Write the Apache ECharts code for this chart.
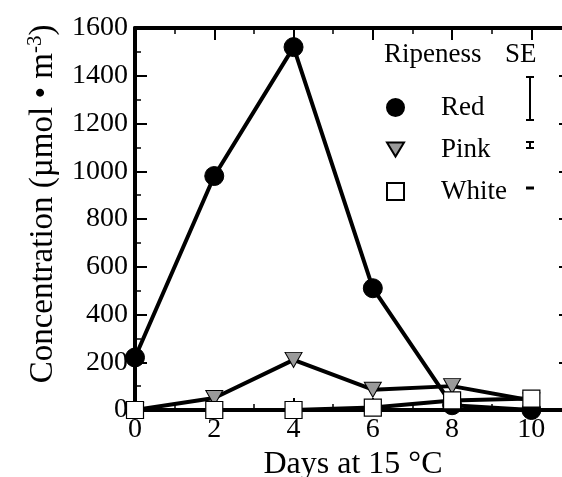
<!DOCTYPE html>
<html>
<head>
<meta charset="utf-8">
<script src="https://cdn.jsdelivr.net/npm/echarts@6/dist/echarts.min.js"></script>
<style>
html,body{margin:0;padding:0;background:#fff;}
#c{width:562px;height:477px;}
</style>
</head>
<body>
<div id="c"></div>
<script>
var days = [0, 2, 4, 6, 8, 10];
var redVals = [220, 980, 1520, 510, 20, 0];
var pinkVals = [0, 50, 210, 85, 100, 40];
var whiteVals = [0, 0, 0, 10, 40, 48];
var seriesNames = ['Red', 'Pink', 'White'];
var yTicks = [0, 200, 400, 600, 800, 1000, 1200, 1400, 1600];

var FONT = '"Liberation Serif", "DejaVu Serif", serif';
var triPath = 'path://M0,0 L12,0 L6,10 Z';

function pairs(vals){ return days.map(function(d,i){ return [d, vals[i]]; }); }

var chart = echarts.init(document.getElementById('c'), null, {renderer:'canvas'});

var axisCommon = {
  axisLine: {show:true, onZero:false, lineStyle:{color:'#000', width:4}},
  axisTick: {show:true, inside:true, length:12, lineStyle:{color:'#000', width:2}},
  minorTick: {show:true, splitNumber:2, length:6, lineStyle:{color:'#000', width:1.5}},
  splitLine: {show:false}
};

var option = {
  backgroundColor:'#fff',
  animation:false,
  grid: {left:135, top:28, width:436, height:382, outerBoundsMode:'none', containLabel:false},
  legend: {
    orient:'vertical', left:381, top:89, itemGap:15, itemWidth:17, itemHeight:17,
    data:[
      {name:'Red', icon:'circle'},
      {name:'Pink', icon:triPath},
      {name:'White', icon:'rect'}
    ],
    textStyle:{fontFamily:FONT, fontSize:27, color:'#000', padding:[0,0,0,32]},
    selectedMode:false
  },
  xAxis: [
    Object.assign({
      type:'value', min:0, max:11, interval:2, position:'bottom',
      name:'Days at 15 °C', nameLocation:'middle', nameGap:39,
      nameTextStyle:{fontFamily:FONT, fontSize:32, color:'#000', padding:[0,0,0,0]},
      axisLabel:{fontFamily:FONT, fontSize:28, color:'#000', margin:6, showMaxLabel:false,
        formatter:function(v){ return days.indexOf(v) >= 0 ? String(v) : ''; }}
    }, axisCommon),
    Object.assign({
      type:'value', min:0, max:11, interval:2, position:'top',
      axisLabel:{show:false}
    }, axisCommon)
  ],
  yAxis: [
    Object.assign({
      type:'value', min:0, max:1600, interval:200, position:'left',
      name:'Concentration (µmol • m{sup|-3})', nameLocation:'middle', nameGap:73, nameRotate:90,
      nameTextStyle:{fontFamily:FONT, fontSize:33, color:'#000', padding:[0,0,0,30],
        rich:{sup:{fontFamily:FONT, fontSize:21, color:'#000', verticalAlign:'top', padding:[0,0,16,0]}}},
      axisLabel:{fontFamily:FONT, fontSize:28, color:'#000', margin:7,
        formatter:function(v){ return yTicks.indexOf(v) >= 0 ? String(v) : ''; }}
    }, axisCommon),
    Object.assign({
      type:'value', min:0, max:1600, interval:200, position:'right',
      axisLabel:{show:false}
    }, axisCommon)
  ],
  series: [
    {
      name:'Red', type:'line', data:pairs(redVals), z:2,
      symbol:'circle', symbolSize:19,
      lineStyle:{color:'#000', width:4},
      itemStyle:{color:'#000', borderColor:'#000', borderWidth:1}
    },
    {
      name:'Pink', type:'line', data:pairs(pinkVals), z:3,
      symbol:triPath, symbolSize:[17,15],
      lineStyle:{color:'#000', width:4},
      itemStyle:{color:'#9a9a9a', borderColor:'#000', borderWidth:1}
    },
    {
      name:'White', type:'line', data:pairs(whiteVals), z:4,
      symbol:'rect', symbolSize:17,
      lineStyle:{color:'#000', width:4},
      itemStyle:{color:'#fff', borderColor:'#000', borderWidth:1.2}
    }
  ],
  graphic: [
    {type:'text', left:384, top:41, style:{text:'Ripeness', font:'27px ' + FONT, fill:'#000'}},
    {type:'text', left:505, top:41, style:{text:'SE', font:'27px ' + FONT, fill:'#000'}},
    // SE bars
    {type:'line', shape:{x1:530, y1:77, x2:530, y2:120}, style:{stroke:'#000', lineWidth:2}},
    {type:'line', shape:{x1:526, y1:77, x2:534, y2:77}, style:{stroke:'#000', lineWidth:2}},
    {type:'line', shape:{x1:526, y1:120, x2:534, y2:120}, style:{stroke:'#000', lineWidth:2}},
    {type:'line', shape:{x1:530, y1:142, x2:530, y2:148}, style:{stroke:'#000', lineWidth:2}},
    {type:'line', shape:{x1:526, y1:142, x2:534, y2:142}, style:{stroke:'#000', lineWidth:2}},
    {type:'line', shape:{x1:526, y1:148, x2:534, y2:148}, style:{stroke:'#000', lineWidth:2}},
    {type:'line', shape:{x1:526, y1:188, x2:534, y2:188}, style:{stroke:'#000', lineWidth:3}}
  ]
};
chart.setOption(option);
</script>
</body>
</html>
